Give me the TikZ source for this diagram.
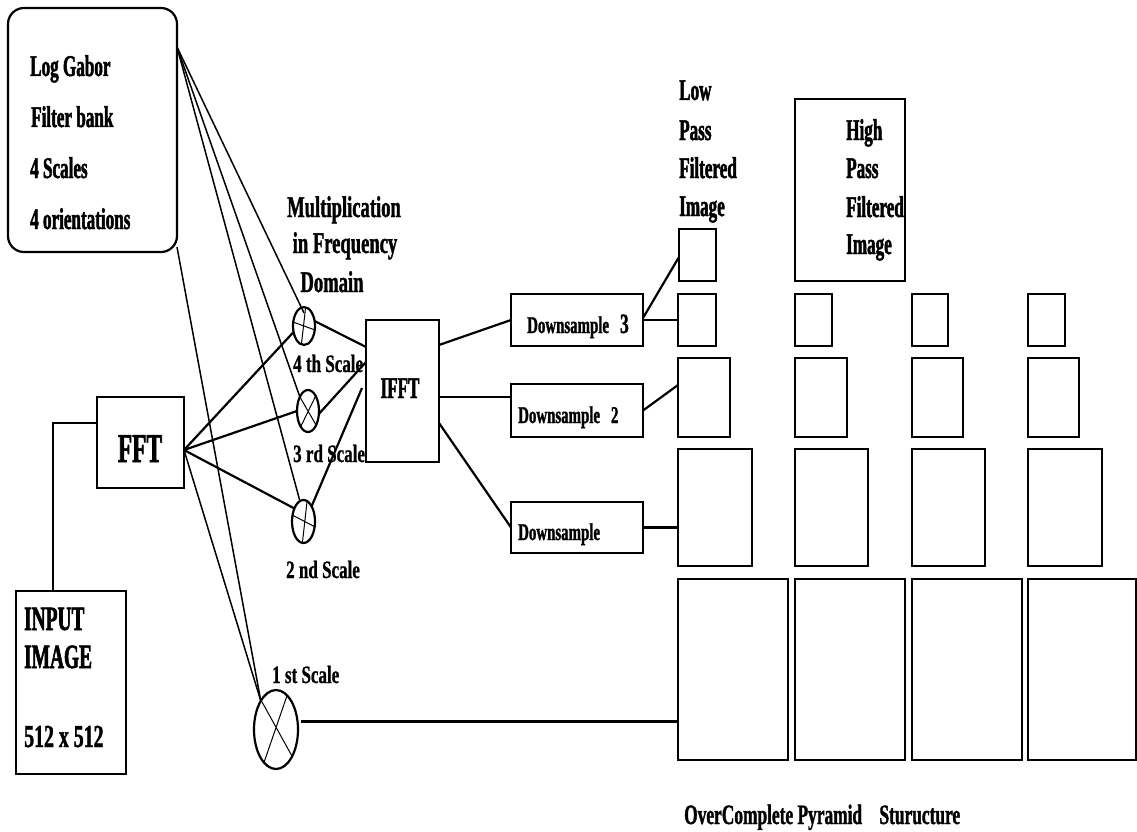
\documentclass[tikz,border=0pt]{standalone}
\usepackage{fontspec}
\setmainfont{Liberation Serif}
\newfontfamily\fA{Liberation Serif Bold}[FakeStretch=0.57,FakeBold=1.6]
\newfontfamily\fB{Liberation Serif Bold}[FakeStretch=0.62,FakeBold=1.2]
\newfontfamily\fC{Liberation Serif Bold}[FakeStretch=0.68,FakeBold=0.8]
\usetikzlibrary{shapes.geometric}
\newcommand\fs[1]{\fontsize{#1}{#1}\selectfont}
\begin{document}
\begin{tikzpicture}[x=1pt,y=-1pt,
  box/.style={draw,line width=2.2pt,inner sep=0pt,outer sep=0pt,rectangle},
  ell/.style={draw,line width=2.2pt,inner sep=0pt,outer sep=0pt,ellipse},
  txt/.style={inner sep=0pt,anchor=base west},
  ctxt/.style={inner sep=0pt,anchor=base},
  thin/.style={line width=1.5pt},
  thick/.style={line width=2.2pt},
  crs/.style={line width=1pt}]
\useasboundingbox (0,0) rectangle (1137,832);
% boxes
\node[box,rounded corners=16pt,minimum width=169pt,minimum height=244pt] (lg) at (92.5,130) {};
\node[box,minimum width=87pt,minimum height=91pt] (fft) at (140.5,442.5) {};
\node[box,minimum width=110pt,minimum height=183pt] (inp) at (71,682.5) {};
\node[box,minimum width=73pt,minimum height=142pt] (ifft) at (402.5,391) {};
\node[box,minimum width=132pt,minimum height=52pt] (ds3) at (577,320) {};
\node[box,minimum width=132pt,minimum height=53pt] (ds2) at (577,410.5) {};
\node[box,minimum width=132pt,minimum height=51pt] (ds1) at (577,527.5) {};
\node[box,minimum width=37pt,minimum height=52pt] (lp) at (697.5,255) {};
\node[box,minimum width=110pt,minimum height=182pt] (hp) at (850,190) {};
% pyramid rows
\node[box,minimum width=38pt,minimum height=52pt] (r1a) at (697,320) {};
\node[box,minimum width=37pt,minimum height=52pt] (r1b) at (813.5,320) {};
\node[box,minimum width=36pt,minimum height=52pt] (r1c) at (930,320) {};
\node[box,minimum width=37pt,minimum height=52pt] (r1d) at (1046.5,320) {};
\node[box,minimum width=52pt,minimum height=79pt] (r2a) at (704,397.5) {};
\node[box,minimum width=52pt,minimum height=79pt] (r2b) at (821,397.5) {};
\node[box,minimum width=51pt,minimum height=79pt] (r2c) at (937.5,397.5) {};
\node[box,minimum width=51pt,minimum height=79pt] (r2d) at (1053.5,397.5) {};
\node[box,minimum width=74pt,minimum height=117pt] (r3a) at (715,507.5) {};
\node[box,minimum width=73pt,minimum height=117pt] (r3b) at (831.5,507.5) {};
\node[box,minimum width=73pt,minimum height=117pt] (r3c) at (948.5,507.5) {};
\node[box,minimum width=74pt,minimum height=117pt] (r3d) at (1065,507.5) {};
\node[box,minimum width=110pt,minimum height=181pt] (r4a) at (733,669.5) {};
\node[box,minimum width=110pt,minimum height=181pt] (r4b) at (850,669.5) {};
\node[box,minimum width=110pt,minimum height=181pt] (r4c) at (967,669.5) {};
\node[box,minimum width=108pt,minimum height=181pt] (r4d) at (1082,669.5) {};
% multipliers
\node[ell,minimum width=22pt,minimum height=38pt] (c4) at (304,326) {};
\node[ell,minimum width=22pt,minimum height=42pt] (c3) at (308,411) {};
\node[ell,minimum width=23pt,minimum height=43pt] (c2) at (303.5,521.5) {};
\node[ell,minimum width=44pt,minimum height=79pt] (c1) at (276,729.5) {};
\draw[crs] (c4.85) -- (c4.262) (c4.160) -- (c4.340);
\draw[crs] (c3.120) -- (c3.300) (c3.63) -- (c3.245);
\draw[crs] (c2.80) -- (c2.267) (c2.150) -- (c2.335);
\draw[crs] (c1.117) -- (c1.301) (c1.72) -- (c1.250);
% connectors
\coordinate (lgo) at ([yshift=83pt]lg.east);
\coordinate (lgb) at ([yshift=5pt]lg.south east);
\coordinate (ffto) at ([yshift=-7.5pt]fft.east);
\draw[thin] (lgo) -- ([yshift=13pt]c4.center);
\draw[thin] (lgo) -- (c3.120);
\draw[thin] (lgo) -- (c2.100);
\draw[thin] (lgb) -- (c1.118);
\draw[thin] (ffto) -- (c1.118);
\draw[thick] (ffto) -- (c4.210);
\draw[thick] (ffto) -- (c3.west);
\draw[thick] (ffto) -- (c2.125);
\draw[thick] ([xshift=-18pt]inp.north) |- ([yshift=19.5pt]fft.west);
\draw[thick] (c4.25) -- ([yshift=44pt]ifft.west);
\draw[thick] (c3.345) -- ([yshift=29pt]ifft.west);
\draw[thick] (c2.62) -- ([xshift=-4pt,yshift=3pt]ifft.west);
\coordinate (if2) at ([yshift=-6pt]ifft.east);
\draw[thick] ([yshift=46pt]ifft.east) -- (ds3.west);
\draw[thick] (if2) -- (if2 -| ds2.west);
\draw[thick] ([yshift=-32pt]ifft.east) -- (ds1.west);
\draw[thick] (ds3.east) -- (r1a.west);
\draw[thick] ([yshift=2pt]ds3.east) -- ([yshift=-2pt]lp.west);
\draw[thick] (ds2.east) -- ([yshift=12.5pt]r2a.west);
\draw[thick] (ds1.east) -- (ds1.east -| r3a.west);
\coordinate (c1o) at ([xshift=3pt,yshift=8pt]c1.east);
\draw[thick] (c1o) -- (c1o -| r4a.west);
% texts
\node[txt,font=\fA\fs{30}] (t1) at (30,76) {Log Gabor};
\node[txt,font=\fA\fs{30}] (t2) at (31,127) {Filter bank};
\node[txt,font=\fA\fs{30}] (t3) at (30,178) {4 Scales};
\node[txt,font=\fA\fs{30}] (t4) at (30,229) {4 orientations};
\node[ctxt,font=\fB\fs{30}] (m1) at (344,217) {Multiplication};
\node[ctxt,font=\fB\fs{30}] (m2) at (345,253) {in Frequency};
\node[ctxt,font=\fB\fs{30}] (m3) at (332,292) {Domain};
\node[txt,font=\fC\fs{25}] (s4) at (293,372) {4 th Scale};
\node[txt,font=\fC\fs{25}] (s3) at (293,462) {3 rd Scale};
\node[txt,font=\fC\fs{25}] (s2) at (286,578) {2 nd Scale};
\node[txt,font=\fC\fs{25}] (s1) at (272,683) {1 st Scale};
\node[ctxt,font=\fA\fs{41}] (fftt) at (140,462) {FFT};
\node[ctxt,font=\fA\fs{30}] (ifftt) at (400,398) {IFFT};
\node[txt,font=\fA\fs{34}] (i1) at (24,630) {INPUT};
\node[txt,font=\fA\fs{34}] (i2) at (24,668) {IMAGE};
\node[txt,font=\fB\fs{32}] (i3) at (24,747) {512 x 512};
\node[txt,font=\fB\fs{24}] (d3) at (527,333) {Downsample\hspace{11pt}{\fs{28}3}};
\node[txt,font=\fB\fs{24}] (d2) at (518,423) {Downsample\hspace{11pt}2};
\node[txt,font=\fB\fs{24}] (d1) at (518,540) {Downsample};
\node[txt,font=\fA\fs{30}] (l1) at (679,100) {Low};
\node[txt,font=\fA\fs{30}] (l2) at (679,140) {Pass};
\node[txt,font=\fA\fs{30}] (l3) at (679,178) {Filtered};
\node[txt,font=\fA\fs{30}] (l4) at (679,216) {Image};
\node[txt,font=\fA\fs{30}] (h1) at (846,140) {High};
\node[txt,font=\fA\fs{30}] (h2) at (846,178) {Pass};
\node[txt,font=\fA\fs{30}] (h3) at (846,217) {Filtered};
\node[txt,font=\fA\fs{30}] (h4) at (846,254) {Image};
\node[txt,font=\fB\fs{28}] (ov) at (684,824) {OverComplete Pyramid\hspace{13pt} Sturucture};
\end{tikzpicture}
\end{document}
